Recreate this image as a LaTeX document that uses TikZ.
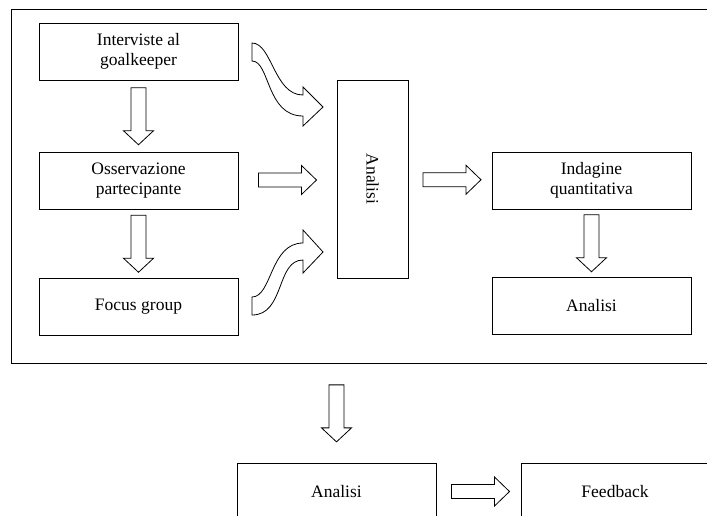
\documentclass[tikz,border=0pt]{standalone}
\usepackage{fontspec}
\setmainfont{Liberation Serif}
\usetikzlibrary{calc}
\tikzset{
  lbl/.style={font=\fontsize{17.5}{20}\selectfont, align=center, inner sep=0pt},
  box/.style={lbl, draw, line width=0.9pt, minimum width=199pt, minimum height=57pt},
  frm/.style={draw, line width=1.2pt, inner sep=0pt},
  blk/.style={draw, line width=0.8pt, fill=white, line join=miter},
  downarr/.pic={\draw[blk] (-7.5,-28.5) -- (7.5,-28.5) -- (7.5,14.5) -- (15,14.5) -- (0,28.5) -- (-15,14.5) -- (-7.5,14.5) -- cycle;},
  rightarr/.pic={\draw[blk] (-29,-7) -- (14,-7) -- (14,-14.5) -- (29,0) -- (14,14.5) -- (14,7) -- (-29,7) -- cycle;}
}
\begin{document}
\begin{tikzpicture}[x=1pt,y=-1pt]
\useasboundingbox (0,0) rectangle (707,515);
\clip (0,0) rectangle (707,515);
\fill[white] (0,0) rectangle (707,515);
\node[frm, minimum width=709pt, minimum height=354pt, anchor=north west] (frame) at (11,9) {};
\node[box] (int) at (138.5,51.5) {Interviste al\\goalkeeper};
\node[box] (oss) at (138.5,181) {Osservazione\\partecipante};
\node[box] (foc) at (138.5,306.5) {Focus group};
\node[box, minimum width=71pt, minimum height=198pt] (ana) at (372.5,179) {};
\node[lbl, rotate=-90] (anat) at (ana.center) {Analisi};
\node[box] (ind) at (591.5,180.5) {Indagine\\quantitativa};
\node[box] (an2) at (591.5,306) {Analisi};
\node[box] (an3) at (336.5,491.5) {Analisi};
\node[box, minimum width=188pt] (fee) at (615,491.5) {Feedback};
\pic at ($(int.south)!0.5!(oss.north)$) {downarr};
\pic at ($(oss.south)!0.5!(foc.north)$) {downarr};
\pic at ($(ind.south)!0.5!(an2.north)$) {downarr};
\pic at ($(frame.south -| an3.north)!0.5!(an3.north)$) {downarr};
\pic at ($(oss.east)!0.5!(ana.west)$) {rightarr};
\pic at ($(ana.east)!0.5!(ind.west)+(2,0)$) {rightarr};
\pic at ($(an3.east)!0.5!(fee.west)+(2,0)$) {rightarr};
\draw[blk] (252,43) .. controls (272,43) and (274,95) .. (303,95) -- (303,87) -- (323,107) -- (303,126) -- (303,116) .. controls (266,116) and (270,61) .. (252,61) -- cycle;
\draw[blk] (252,297) .. controls (272,297) and (270,243) .. (303,243) -- (303,230) -- (323,252) -- (303,273) -- (303,260) .. controls (276,260) and (285,315) .. (252,315) -- cycle;
\end{tikzpicture}
\end{document}
